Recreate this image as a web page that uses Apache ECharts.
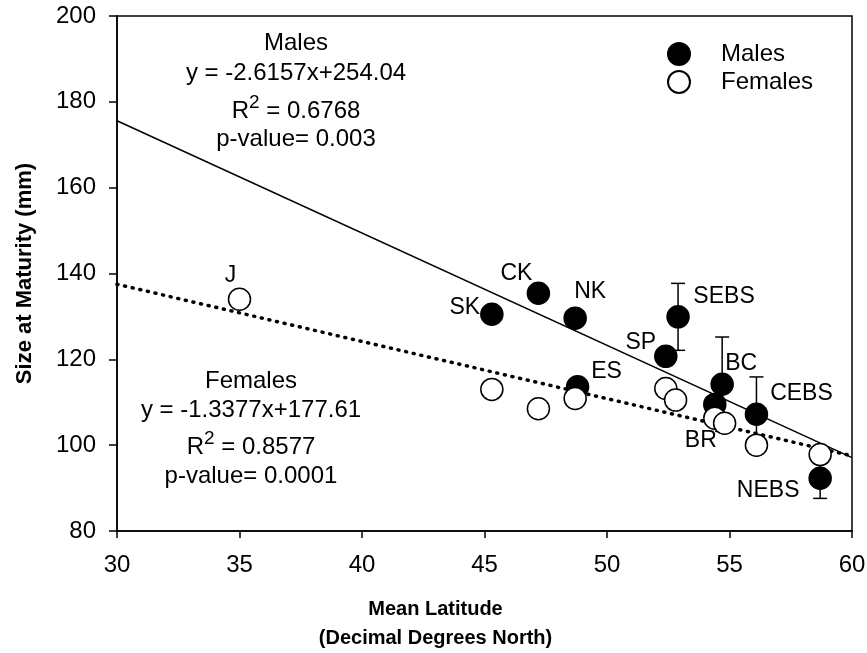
<!DOCTYPE html>
<html>
<head>
<meta charset="utf-8">
<script src="https://cdn.jsdelivr.net/npm/echarts@6/dist/echarts.min.js"></script>
<style>
  html, body { margin: 0; padding: 0; background: #fff; }
  #chart { width: 867px; height: 653px; }
</style>
</head>
<body>
<div id="chart"></div>
<script>
// site codes, latitude and size at maturity
const maleSites = ['SK', 'CK', 'NK', 'ES', 'SP', 'SEBS', 'BC', 'BR', 'CEBS', 'NEBS'];
const maleLat = [45.3, 47.2, 48.7, 48.8, 52.4, 52.9, 54.7, 54.4, 56.1, 58.7];
const maleSize = [130.5, 135.4, 129.6, 113.6, 120.7, 129.9, 114.2, 109.5, 107.2, 92.3];
const maleErr = [0, 0, 0, 0, 0, 7.8, 11.0, 0, 8.7, 4.7];

const femaleSites = ['J', '', '', '', '', '', '', '', '', ''];
const femaleLat = [35.0, 45.3, 47.2, 48.7, 52.4, 52.8, 54.4, 54.8, 56.1, 58.7];
const femaleSize = [134.0, 113.0, 108.5, 110.9, 113.2, 110.5, 106.3, 105.1, 100.0, 97.8];

// regression line end points (x = 30 and x = 60)
const maleFit = [[30, 175.6], [60, 97.1]];
const femaleFit = [[30, 137.5], [60, 97.5]];

const FONT = 'Liberation Sans, Arial, sans-serif';

// label offsets from point centre, px
const labelOffset = {
  SK: [-27, -7], CK: [-22, -20], NK: [15, -26], ES: [29, -15], SP: [-25, -14],
  SEBS: [46, -20], BC: [19, -21], BR: [-14, 36], CEBS: [45, -21], NEBS: [-52, 12], J: [-9, -24]
};

function pts(lat, size, sites) {
  return lat.map((x, i) => {
    const name = sites[i];
    const item = { value: [x, size[i]], name: name };
    if (name) {
      item.label = { show: true, formatter: name, position: 'inside', offset: labelOffset[name] };
    }
    return item;
  });
}

const errData = maleLat.map((x, i) => [x, maleSize[i] - maleErr[i], maleSize[i] + maleErr[i]])
  .filter((d, i) => maleErr[i] > 0);

const chart = echarts.init(document.getElementById('chart'));

const labelStyle = { show: false, color: '#000', fontSize: 23, fontFamily: FONT, align: 'center', verticalAlign: 'middle' };
const annFont = '24px ' + FONT;
const supRich = {
  a: { fontSize: 24, fontFamily: FONT, color: '#000', verticalAlign: 'bottom', lineHeight: 30 },
  s: { fontSize: 19, fontFamily: FONT, color: '#000', verticalAlign: 'top', lineHeight: 9 }
};

chart.setOption({
  animation: false,
  backgroundColor: '#fff',
  textStyle: { fontFamily: FONT },
  grid: {
    left: 117, top: 16, width: 735, height: 515, outerBoundsMode: 'none', containLabel: false,
    show: true, borderColor: '#000', borderWidth: 1.5, backgroundColor: 'transparent'
  },
  legend: {
    orient: 'vertical', left: 667, top: 42, padding: 0, itemGap: 4, itemWidth: 22, itemHeight: 22,
    data: ['Males', 'Females'],
    textStyle: { fontSize: 24, lineHeight: 22, color: '#000', fontFamily: FONT, padding: [0, 0, 0, 26] }
  },
  xAxis: {
    type: 'value', min: 30, max: 60, interval: 5,
    name: 'Mean Latitude\n(Decimal Degrees North)', nameLocation: 'middle', nameGap: 64,
    nameTextStyle: { fontSize: 20, fontWeight: 'bold', color: '#000', lineHeight: 29, padding: [0, 98, 0, 0] },
    axisLine: { lineStyle: { color: '#000', width: 1.5 } },
    axisTick: { length: 7, lineStyle: { color: '#000', width: 1.5 } },
    axisLabel: { fontSize: 24, color: '#000', margin: 22 },
    splitLine: { show: false }
  },
  yAxis: {
    type: 'value', min: 80, max: 200, interval: 20,
    name: 'Size at Maturity (mm)', nameLocation: 'middle', nameGap: 81, nameRotate: 90,
    nameTextStyle: { fontSize: 22, fontWeight: 'bold', color: '#000' },
    axisLine: { lineStyle: { color: '#000', width: 1.5 } },
    axisTick: { length: 8, lineStyle: { color: '#000', width: 1.5 } },
    axisLabel: { fontSize: 24, color: '#000', margin: 21 },
    splitLine: { show: false }
  },
  series: [
    {
      name: 'Males fit', type: 'line', data: maleFit, symbol: 'none', silent: true, z: 1,
      lineStyle: { color: '#000', width: 1.5 }
    },
    {
      name: 'Females fit', type: 'line', data: femaleFit, symbol: 'none', silent: true, z: 1,
      lineStyle: { color: '#000', width: 3.5, type: [1, 6.8], cap: 'round' }
    },
    {
      name: 'Male error', type: 'custom', z: 2, data: errData,
      renderItem: (params, api) => {
        const top = api.coord([api.value(0), api.value(2)]);
        const bot = api.coord([api.value(0), api.value(1)]);
        const w = 7;
        const st = { stroke: '#000', lineWidth: 1.5 };
        return {
          type: 'group', children: [
            { type: 'line', shape: { x1: top[0], y1: top[1], x2: bot[0], y2: bot[1] }, style: st },
            { type: 'line', shape: { x1: top[0] - w, y1: top[1], x2: top[0] + w, y2: top[1] }, style: st },
            { type: 'line', shape: { x1: bot[0] - w, y1: bot[1], x2: bot[0] + w, y2: bot[1] }, style: st }
          ]
        };
      }
    },
    {
      name: 'Males', type: 'scatter', z: 3, symbol: 'circle', symbolSize: 22,
      data: pts(maleLat, maleSize, maleSites),
      itemStyle: { color: '#000', borderColor: '#000', borderWidth: 1.5, opacity: 1 },
      label: labelStyle
    },
    {
      name: 'Females', type: 'scatter', z: 4, symbol: 'circle', symbolSize: 22,
      data: pts(femaleLat, femaleSize, femaleSites),
      itemStyle: { color: '#fff', borderColor: '#000', borderWidth: 1.5, opacity: 1 },
      label: labelStyle
    }
  ],
  graphic: [
    { type: 'text', x: 296, y: 43, style: { text: 'Males', font: annFont, fill: '#000', align: 'center', verticalAlign: 'middle' } },
    { type: 'text', x: 296, y: 73, style: { text: 'y = -2.6157x+254.04', font: annFont, fill: '#000', align: 'center', verticalAlign: 'middle' } },
    { type: 'text', x: 296, y: 108, style: { text: '{a|R}{s|2}{a| = 0.6768}', rich: supRich, align: 'center', verticalAlign: 'middle' } },
    { type: 'text', x: 296, y: 139, style: { text: 'p-value= 0.003', font: annFont, fill: '#000', align: 'center', verticalAlign: 'middle' } },

    { type: 'text', x: 251, y: 381, style: { text: 'Females', font: annFont, fill: '#000', align: 'center', verticalAlign: 'middle' } },
    { type: 'text', x: 251, y: 410, style: { text: 'y = -1.3377x+177.61', font: annFont, fill: '#000', align: 'center', verticalAlign: 'middle' } },
    { type: 'text', x: 251, y: 444, style: { text: '{a|R}{s|2}{a| = 0.8577}', rich: supRich, align: 'center', verticalAlign: 'middle' } },
    { type: 'text', x: 251, y: 476, style: { text: 'p-value= 0.0001', font: annFont, fill: '#000', align: 'center', verticalAlign: 'middle' } }
  ]
});
</script>
</body>
</html>
